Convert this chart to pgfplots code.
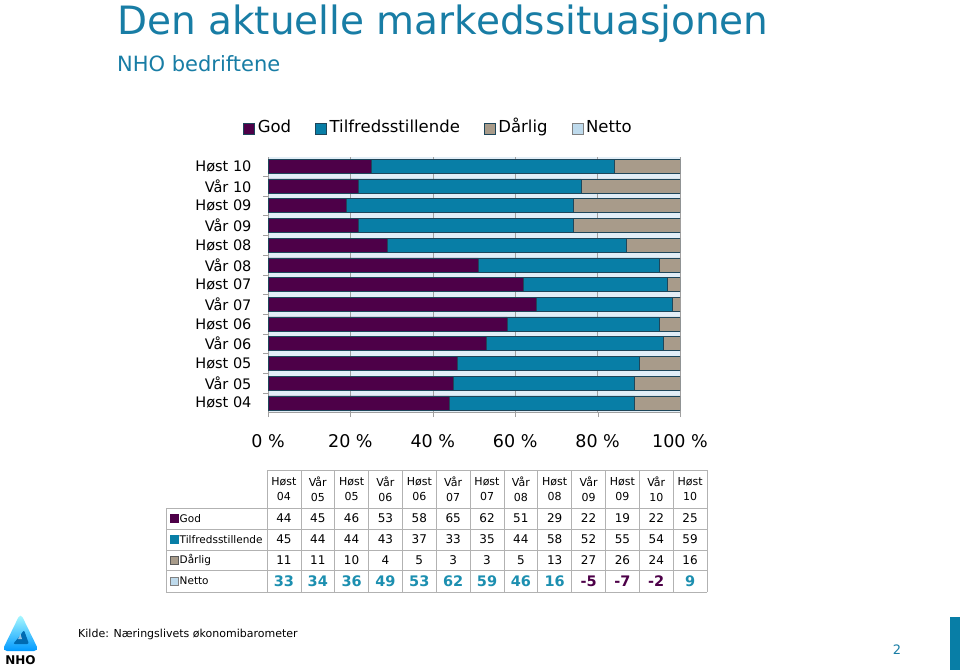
\documentclass[border=0pt]{standalone}
\usepackage{pgfplots}
\pgfplotsset{compat=1.18}
\usepackage{pgfplotstable}
\usepackage{fontspec}
\setmainfont{DejaVu Sans}

\definecolor{titleblue}{RGB}{24,125,165}
\definecolor{godc}{RGB}{77,0,72}
\definecolor{tilfc}{RGB}{8,126,166}
\definecolor{darc}{RGB}{168,155,138}
\definecolor{netc}{RGB}{190,218,236}
\definecolor{bgc}{RGB}{226,238,247}
\definecolor{edgec}{RGB}{30,70,90}
\definecolor{gridc}{RGB}{160,160,160}
\definecolor{posc}{RGB}{28,143,176}

% idx 0 = Høst 04 (bottom) ... 12 = Høst 10 (top)
\pgfplotstableread[col sep=comma]{
idx,God,Tilf,Darlig,Netto
0,44,45,11,33
1,45,44,11,34
2,46,44,10,36
3,53,43,4,49
4,58,37,5,53
5,65,33,3,62
6,62,35,3,59
7,51,44,5,46
8,29,58,13,16
9,22,52,27,-5
10,19,55,26,-7
11,22,54,24,-2
12,25,59,16,9
}\datatable

\begin{document}
\begin{tikzpicture}
\path[fill=white,use as bounding box] (0pt,0pt) rectangle (960pt,670pt);

% title
\node[anchor=base west,inner sep=0,text=titleblue,font=\fontsize{39}{45}\selectfont]
  at (117pt,635pt) {Den aktuelle markedssituasjonen};
\node[anchor=base west,inner sep=0,text=titleblue,font=\fontsize{21}{25}\selectfont]
  at (117pt,598pt) {NHO bedriftene};

\begin{axis}[
  at={(268pt,258pt)}, anchor=south west,
  width=412pt, height=255pt, scale only axis,
  xbar stacked, bar width=14pt,
  xmin=0, xmax=100, ymin=-0.46, ymax=12.46,
  axis background/.style={fill=bgc},
  axis x line*=bottom, axis y line*=left,
  axis line style={draw=gridc},
  xmajorgrids, grid style={draw=gridc,line width=0.5pt},
  tick align=outside, major tick length=5pt,
  xtick={0,20,...,100},
  xtick style={draw=gridc},
  xticklabel={\pgfmathprintnumber{\tick}~\%},
  xticklabel style={font=\fontsize{17.5}{20}\selectfont,yshift=-14pt},
  /pgf/number format/assume math mode=true,
  ytick={0,...,12},
  ytick style={draw=none},
  yticklabels={Høst 04,Vår 05,Høst 05,Vår 06,Høst 06,Vår 07,Høst 07,Vår 08,Høst 08,Vår 09,Høst 09,Vår 10,Høst 10},
  yticklabel style={font=\fontsize{14.5}{17}\selectfont,xshift=-8pt},
  extra y ticks={-0.5,0.5,...,12.5},
  extra y tick labels={},
  extra y tick style={ytick style={draw=gridc}},
  legend style={at={(0.415,1.110)},anchor=center,legend columns=4,draw=none,fill=none,
    font=\fontsize{16.5}{20}\selectfont,
    nodes={text height=12pt,text depth=4pt,inner xsep=3pt},
    /tikz/every even column/.append style={column sep=21pt}},
  legend image code/.code={\draw[#1,line width=0.5pt] (0pt,-5.5pt) rectangle (11pt,5.5pt);},
  clip=true,
]
\addplot[fill=godc,draw=edgec,line width=0.5pt] table[x=God,y=idx]{\datatable};
\addlegendentry{God}
\addplot[fill=tilfc,draw=edgec,line width=0.5pt] table[x=Tilf,y=idx]{\datatable};
\addlegendentry{Tilfredsstillende}
\addplot[fill=darc,draw=edgec,line width=0.5pt] table[x=Darlig,y=idx]{\datatable};
\addlegendentry{Dårlig}
\addlegendimage{fill=netc,draw=gray,line width=0.5pt}
\addlegendentry{Netto}
\end{axis}

\begin{scope}[x=1pt,y=1pt]
% data table below the chart
\draw[gray!60,line width=0.7pt] (267,200) -- (707,200);
\foreach \yy in {162,141,120,100,78} \draw[gray!60,line width=0.7pt] (166,\yy) -- (707,\yy);
\draw[gray!60,line width=0.7pt] (166,78) -- (166,162);
\foreach \k in {0,...,13} \draw[gray!60,line width=0.7pt] (267+33.85*\k,78) -- (267+33.85*\k,200);

\foreach \lab [count=\i from 0] in {Høst\\04,Vår\\05,Høst\\05,Vår\\06,Høst\\06,Vår\\07,Høst\\07,Vår\\08,Høst\\08,Vår\\09,Høst\\09,Vår\\10,Høst\\10}
  \node[align=center,font=\fontsize{11}{14.5}\selectfont,inner sep=0] at (283.9+33.85*\i,181) {\lab};

\foreach \lab/\col/\yy/\ed in {God/godc/151.5/godc,Tilfredsstillende/tilfc/130.5/tilfc,Dårlig/darc/110/gray!70!black,Netto/netc/89/gray} {
  \filldraw[fill=\col,draw=\ed,line width=0.4pt] (170,\yy-4) rectangle (178,\yy+4);
  \node[anchor=west,inner sep=0,font=\fontsize{10.5}{13}\selectfont] at (179.5,\yy) {\lab};
}

\foreach \i in {0,...,12} {
  \pgfmathsetmacro\cx{283.9+33.85*\i}
  \pgfplotstablegetelem{\i}{God}\of\datatable
  \node[font=\fontsize{12}{14}\selectfont] at (\cx,151.5) {\pgfplotsretval};
  \pgfplotstablegetelem{\i}{Tilf}\of\datatable
  \node[font=\fontsize{12}{14}\selectfont] at (\cx,130.5) {\pgfplotsretval};
  \pgfplotstablegetelem{\i}{Darlig}\of\datatable
  \node[font=\fontsize{12}{14}\selectfont] at (\cx,110) {\pgfplotsretval};
  \pgfplotstablegetelem{\i}{Netto}\of\datatable
  \ifdim\pgfplotsretval pt<0pt \def\nc{godc}\else\def\nc{posc}\fi
  \node[font=\fontsize{14.5}{16}\selectfont\bfseries,text=\nc] at (\cx,89) {\pgfplotsretval};
}

% footer
\node[anchor=base west,inner sep=0,font=\fontsize{11}{13}\selectfont] at (78,33) {Kilde: Næringslivets økonomibarometer};
\node[text=titleblue,font=\fontsize{13}{15}\selectfont] at (897,20) {2};
\fill[tilfc] (950,0) rectangle (960,53);

% logo
\shade[top color=cyan!30!white,bottom color=cyan!60!blue,rounded corners=5pt]
  (2,19) -- (39,19) -- (20.5,57) -- cycle;
\fill[blue!40!cyan!70!black,rounded corners=2pt] (13,26) -- (29,26) -- (24,40) -- (19,33) -- cycle;
\fill[white,opacity=0.6] (18,31) -- (22,31) -- (20.5,36) -- cycle;
\node[font=\fontsize{12}{14}\selectfont\bfseries,inner sep=0] at (20.5,10) {NHO};
\end{scope}
\end{tikzpicture}
\end{document}
